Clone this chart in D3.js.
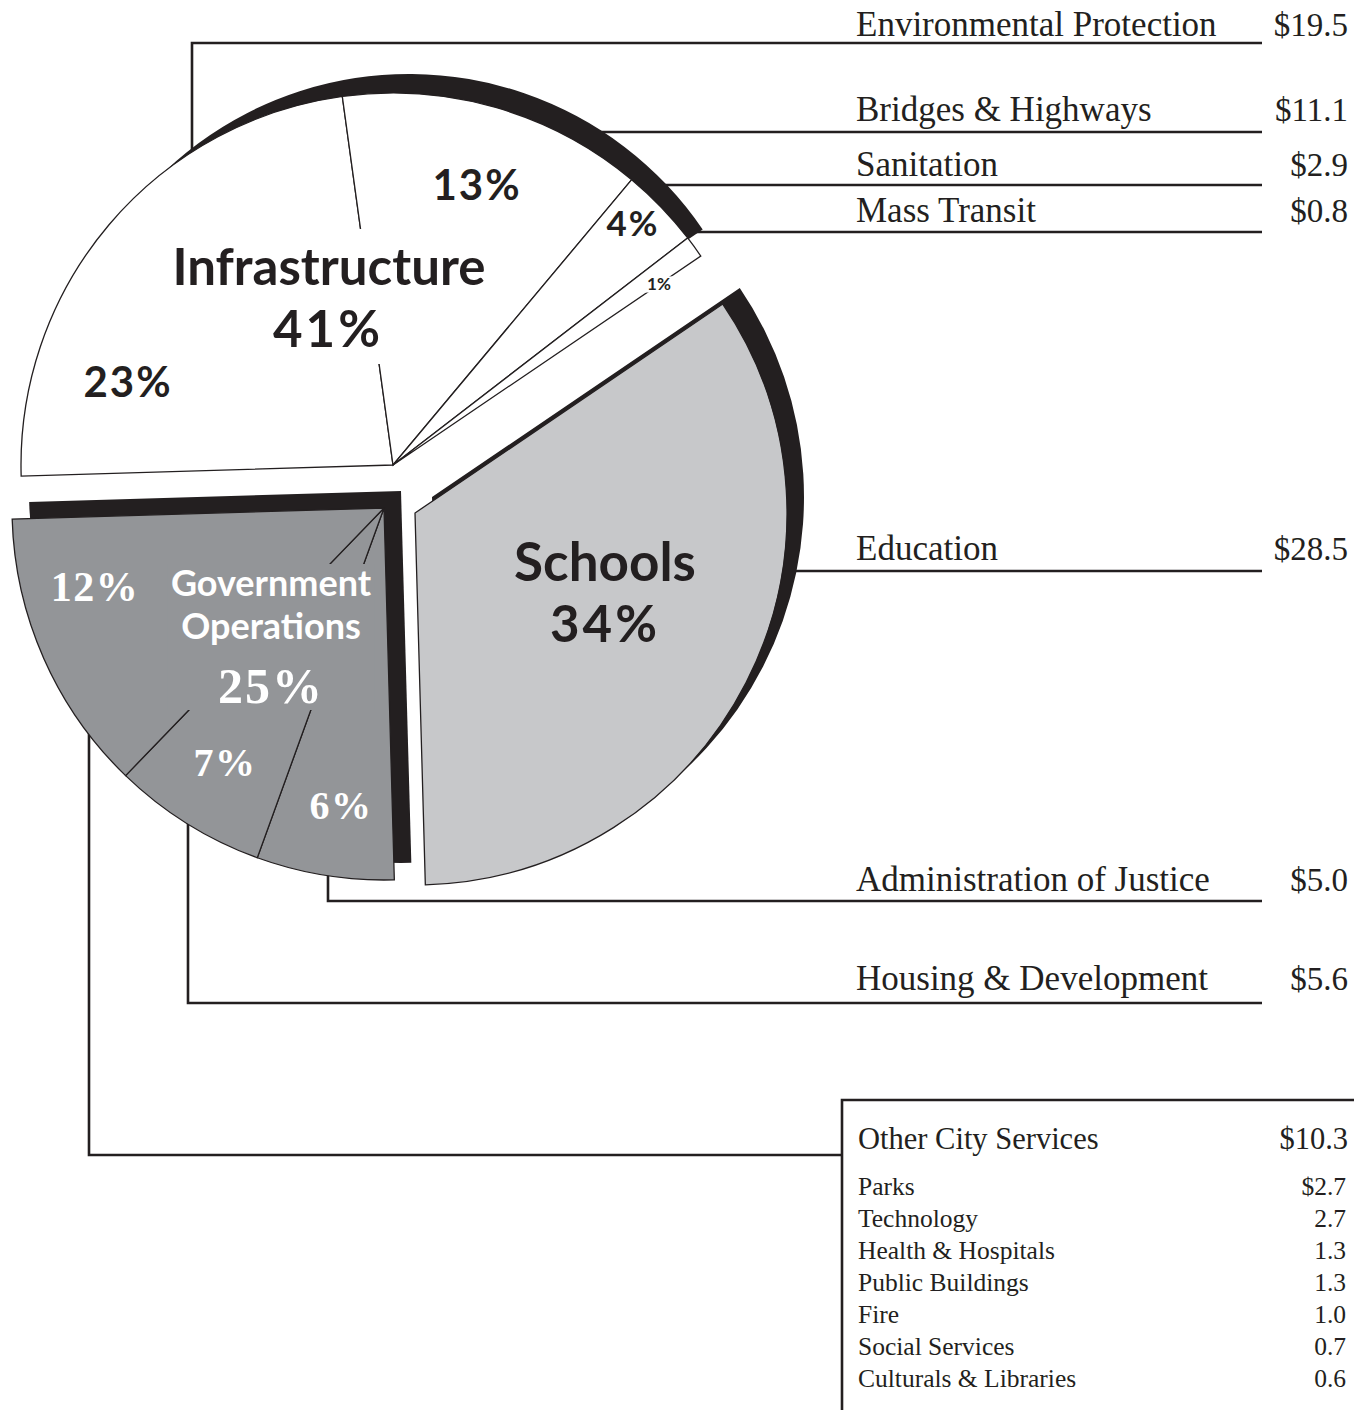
<!DOCTYPE html>
<html><head><meta charset="utf-8">
<script src="https://cdn.jsdelivr.net/npm/d3@7"></script>
<style>
html,body{margin:0;padding:0;background:#fff;}
svg{display:block;}
</style></head>
<body>
<svg id="chart" width="1354" height="1410"></svg>
<script>
// Capital spending by category (billions of dollars), clockwise around the pie
const categories = ["Environmental Protection","Bridges & Highways","Sanitation","Mass Transit","Education","Administration of Justice","Housing & Development","Other City Services"];
const values = [19.5, 11.1, 2.9, 0.8, 28.5, 5.0, 5.6, 10.3];
const categoryGroup = [0, 0, 0, 0, 1, 2, 2, 2];
const slicePct = ["23%", "13%", "4%", "1%", "", "6%", "7%", "12%"];

// Pie groups
const groupNames = ["Infrastructure", "Schools", "Government Operations"];
const groupPct = ["41%", "34%", "25%"];

// Breakdown of "Other City Services"
const otherItems = ["Parks","Technology","Health & Hospitals","Public Buildings","Fire","Social Services","Culturals & Libraries"];
const otherValues = [2.7, 2.7, 1.3, 1.3, 1.0, 0.7, 0.6];

// ---- layout & style ----
const ink = "#231f20";
const groupFill = ["#ffffff", "#c7c8ca", "#939598"];
const groupText = [ink, ink, "#ffffff"];
const R = 372;
const base = [400, 490];
const groupShift = [[-7, -25], [15, 23], [-16, 18]];   // exploded offsets
const shadowShift = [[16, -36], [17, -16], [17, -17]];  // black relief behind each group
const shadowRadius = [R - 17, R, R];
const startDeg = -91.7;
const SANS = "Lato, 'Open Sans', sans-serif";
const SERIF = "'Liberation Serif', 'Times New Roman', serif";

// leader lines: horizontal from the pie edge, or vertical then horizontal
const leaders = [
  {type: "v", x: 192, side: -1, y: 43},
  {type: "h", y: 132},
  {type: "h", y: 185},
  {type: "h", y: 232},
  {type: "h", y: 571},
  {type: "v", x: 328, side: 1, y: 901},
  {type: "v", x: 188, side: 1, y: 1003},
  {type: "v", x: 89, side: 1, y: 1155, end: 842}
];
const labelBaseline = [36, 121, 176, 222, 560, 891, 990];
const lineEnd = 1262, labelX = 856, valueX = 1348;

// slice percentage labels: [x, baseline, size, family, letter-spacing]
const pctLayout = [
  [128, 397, 42, SANS, 2], [477, 200, 42, SANS, 2], [633, 236, 35, SANS, 2], [659, 290, 17, SANS, 0],
  null,
  [341, 819, 40, SERIF, 1.5], [225, 776, 40, SERIF, 1.5], [95, 601, 42, SERIF, 1.5]
];
// group title lines: [text, x, baseline, size, family, letter-spacing]
const groupLayout = [
  [[groupNames[0], 329, 285, 51, SANS, 0], [groupPct[0], 328, 347, 51, SANS, 3]],
  [[groupNames[1], 605, 581, 53, SANS, 0], [groupPct[1], 605, 642, 51, SANS, 3]],
  [[groupNames[2].split(" ")[0], 271, 596, 36, SANS, 0], [groupNames[2].split(" ")[1], 271, 639, 36, SANS, 0], [groupPct[2], 271, 703, 50, SERIF, 2]]
];
// how the slice-divider lines are hidden behind each title: per line, or one block
const maskMode = ["lines", null, "block"];

const svg = d3.select("#chart");
const rad = d => d * Math.PI / 180;

const pie = d3.pie().sort(null).value(d => d)
  .startAngle(rad(startDeg)).endAngle(rad(startDeg) + 2 * Math.PI);
const slices = pie(values);
const arcGen = d3.arc().innerRadius(0).outerRadius(R);
const centers = groupShift.map(s => [base[0] + s[0], base[1] + s[1]]);

const groupIdx = groupNames.map((_, g) => d3.range(values.length).filter(i => categoryGroup[i] === g));

// ---- leader lines (drawn first; the pie covers their inner ends) ----
const leaderG = svg.append("g");
leaders.forEach((L, i) => {
  const [cx, cy] = centers[categoryGroup[i]];
  const xEnd = L.end || lineEnd;
  let d;
  if (L.type === "h") {
    const xa = cx + Math.sqrt(R * R - (L.y - cy) ** 2);
    d = `M${xa - 8},${L.y}H${xEnd}`;
  } else {
    const ya = cy + L.side * Math.sqrt(R * R - (L.x - cx) ** 2);
    d = `M${L.x},${ya - L.side * 8}V${L.y}H${xEnd}`;
  }
  leaderG.append("path").attr("d", d).attr("fill", "none")
    .attr("stroke", ink).attr("stroke-width", 2.6);
});

// ---- black relief behind each group ----
const shadowG = svg.append("g");
groupIdx.forEach((idx, g) => {
  const [cx, cy] = centers[g];
  shadowG.append("path")
    .attr("transform", `translate(${cx + shadowShift[g][0]},${cy + shadowShift[g][1]})`)
    .attr("d", d3.arc().innerRadius(0).outerRadius(shadowRadius[g])({
      startAngle: slices[idx[0]].startAngle,
      endAngle: slices[idx[idx.length - 1]].endAngle
    }))
    .attr("fill", ink);
});

// ---- slices ----
const sliceG = svg.append("g");
slices.forEach((s, i) => {
  const g = categoryGroup[i];
  const [cx, cy] = centers[g];
  sliceG.append("path")
    .attr("transform", `translate(${cx},${cy})`)
    .attr("d", arcGen(s))
    .attr("fill", groupFill[g])
    .attr("stroke", ink).attr("stroke-width", 1.3).attr("stroke-linejoin", "miter");
});

// ---- labels on the pie ----
const labelG = svg.append("g");
function addText(parent, txt, x, y, size, fam, color, ls) {
  const t = parent.append("text").attr("x", x).attr("y", y)
    .attr("text-anchor", "middle")
    .attr("font-family", fam).attr("font-weight", 700)
    .attr("font-size", size).attr("fill", color).text(txt);
  if (ls) t.attr("letter-spacing", ls);
  return t;
}
// group titles, with a patch of slice colour behind them where dividers pass
groupLayout.forEach((lines, g) => {
  const maskG = labelG.append("g");
  const textG = labelG.append("g");
  const boxes = [];
  lines.forEach(([txt, x, y, size, fam, ls]) => {
    const t = addText(textG, txt, x, y, size, fam, groupText[g], ls);
    boxes.push(t.node().getBBox());
  });
  if (maskMode[g] === "lines") {
    boxes.forEach(b => maskG.append("rect").attr("x", b.x - 3).attr("y", b.y - 6)
      .attr("width", b.width + 6).attr("height", b.height + 12).attr("fill", groupFill[g]));
  } else if (maskMode[g] === "block") {
    const x0 = d3.min(boxes, b => b.x), x1 = d3.max(boxes, b => b.x + b.width);
    const y0 = d3.min(boxes, b => b.y), y1 = d3.max(boxes, b => b.y + b.height);
    maskG.append("rect").attr("x", x0 - 3).attr("y", y0 + 4)
      .attr("width", x1 - x0 + 6).attr("height", y1 - y0 - 8).attr("fill", groupFill[g]);
  }
});
// slice percentages
slicePct.forEach((p, i) => {
  if (!p) return;
  const [x, y, size, fam, ls] = pctLayout[i];
  const g = categoryGroup[i];
  const t = addText(labelG, p, x, y, size, fam, groupText[g], ls);
  if (size < 20) {
    const b = t.node().getBBox();
    labelG.insert("rect", () => t.node())
      .attr("x", b.x - 3).attr("y", y - size * 0.8).attr("width", b.width + 6).attr("height", size * 0.95)
      .attr("fill", groupFill[g]);
  }
});

// ---- category labels and amounts ----
const catG = svg.append("g").attr("font-family", SERIF).attr("fill", ink);
categories.slice(0, 7).forEach((c, i) => {
  catG.append("text").attr("x", labelX).attr("y", labelBaseline[i])
    .attr("font-size", 35).text(c);
  catG.append("text").attr("x", valueX).attr("y", labelBaseline[i])
    .attr("font-size", 33).attr("text-anchor", "end").text("$" + values[i].toFixed(1));
});

// ---- "Other City Services" box ----
const boxG = svg.append("g");
boxG.append("path").attr("d", "M842,1414V1100H1358").attr("fill", "none")
  .attr("stroke", ink).attr("stroke-width", 2.6);
const boxT = boxG.append("g").attr("font-family", SERIF).attr("fill", ink);
boxT.append("text").attr("x", 858).attr("y", 1149).attr("font-size", 30.5).text(categories[7]);
boxT.append("text").attr("x", valueX).attr("y", 1149).attr("font-size", 30.5)
  .attr("text-anchor", "end").text("$" + values[7].toFixed(1));
otherItems.forEach((name, k) => {
  const y = 1195 + k * 32;
  boxT.append("text").attr("x", 858).attr("y", y).attr("font-size", 25.5).text(name);
  boxT.append("text").attr("x", 1346).attr("y", y).attr("font-size", 25.5)
    .attr("text-anchor", "end").text((k === 0 ? "$" : "") + otherValues[k].toFixed(1));
});
</script>
</body></html>
